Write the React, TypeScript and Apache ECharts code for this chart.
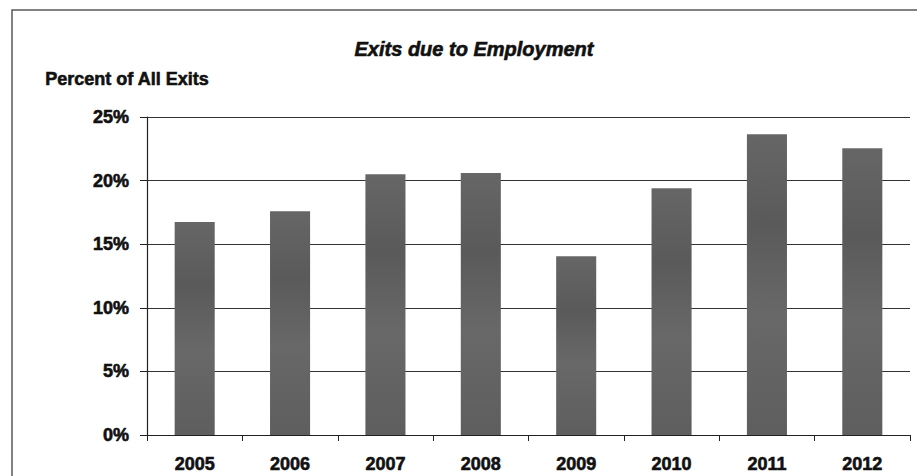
import React, { useEffect, useRef } from "react";
import * as echarts from "echarts";

const years = ["2005", "2006", "2007", "2008", "2009", "2010", "2011", "2012"];
const exitShares = [0.1675, 0.176, 0.205, 0.206, 0.1405, 0.194, 0.2365, 0.2255];
const titleText = "Exits due to Employment";
const yAxisTitle = "Percent of All Exits";

export default function App() {
  const ref = useRef<HTMLDivElement>(null);
  useEffect(() => {
    if (!ref.current) return;
    const chart = echarts.init(ref.current, null, { renderer: "svg" });
    const font = "'Liberation Sans', Arial, sans-serif";
    const heavy = { textBorderColor: "#111", textBorderWidth: 0.6 };
    chart.setOption({
      animation: false,
      backgroundColor: "#ffffff",
      title: {
        text: titleText,
        left: 469,
        top: 34,
        textAlign: "center",
        textStyle: { fontFamily: font, fontSize: 20, fontWeight: "bold", fontStyle: "italic", color: "#111", ...heavy },
      },
      graphic: [
        {
          type: "rect",
          shape: { x: 12, y: 10, width: 940, height: 500 },
          style: { fill: "none", stroke: "#5a5a5a", lineWidth: 1.5 },
          silent: true,
        },
        {
          type: "text",
          left: 45,
          top: 70,
          style: { text: yAxisTitle, fontFamily: font, fontSize: 18, fontWeight: "bold", fill: "#111", stroke: "#111", lineWidth: 0.6 },
        },
      ],
      grid: { left: 147, right: 7, top: 117, bottom: 41, containLabel: false },
      xAxis: {
        type: "category",
        data: years,
        boundaryGap: true,
        axisLine: { show: true, lineStyle: { color: "#222", width: 1.2 } },
        axisTick: { show: true, alignWithLabel: false, length: 6, lineStyle: { color: "#222" } },
        axisLabel: { margin: 20, fontFamily: font, fontSize: 18, fontWeight: "bold", color: "#111", ...heavy },
      },
      yAxis: {
        type: "value",
        min: 0,
        max: 0.25,
        interval: 0.05,
        axisLine: { show: true, lineStyle: { color: "#222", width: 1.2 } },
        axisTick: { show: true, length: 7, lineStyle: { color: "#222" } },
        splitLine: { show: true, lineStyle: { color: "#333", width: 1.2 } },
        axisLabel: {
          margin: 18,
          fontFamily: font,
          fontSize: 18,
          fontWeight: "bold",
          color: "#111",
          ...heavy,
          formatter: (v: number) => Math.round(v * 100) + "%",
        },
      },
      series: [
        {
          type: "bar",
          data: exitShares,
          barWidth: "42%",
          itemStyle: {
            color: {
              type: "linear",
              x: 0,
              y: 0,
              x2: 0,
              y2: 1,
              colorStops: [
                { offset: 0, color: "#666666" },
                { offset: 0.3, color: "#5a5a5a" },
                { offset: 0.6, color: "#686868" },
                { offset: 1, color: "#5e5e5e" },
              ],
            },
          },
        },
      ],
    });
    return () => chart.dispose();
  }, []);
  return <div ref={ref} style={{ width: 917, height: 476, position: "absolute", left: 0, top: 0 }} />;
}
